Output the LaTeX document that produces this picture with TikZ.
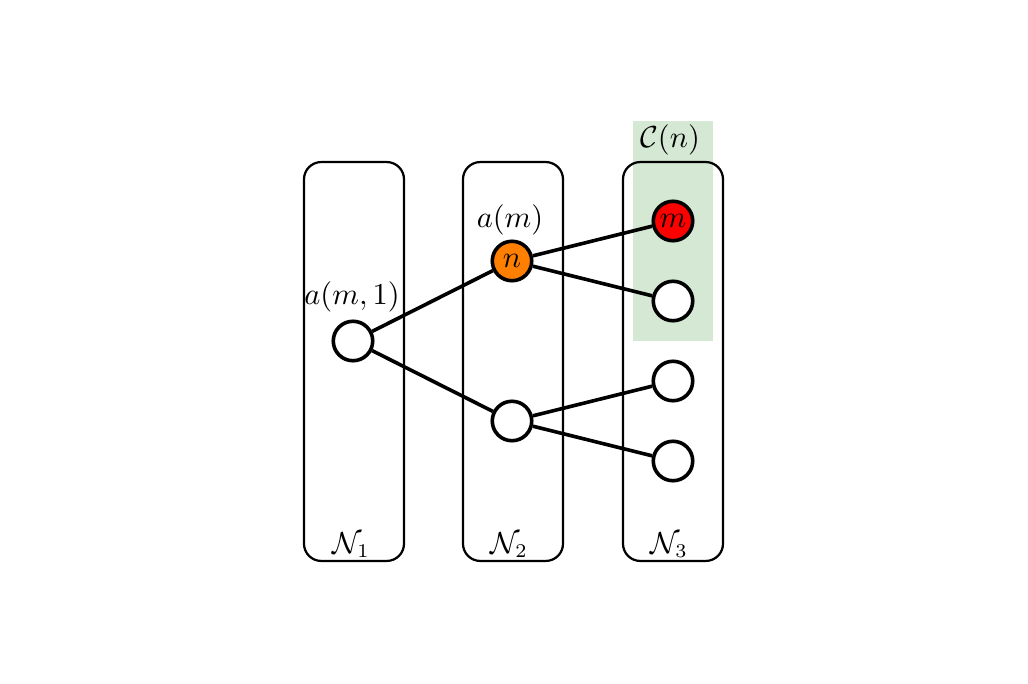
\documentclass[tikz,border=0pt]{standalone}
\usepackage{amsmath}
\begin{document}
\begin{tikzpicture}[x=0.36pt,y=-0.36pt,
  layerbox/.style={draw=black,line width=0.8pt,rounded corners=6.2pt,minimum width=36pt,minimum height=143.6pt,inner sep=0pt},
  vert/.style={circle,draw=black,line width=1.3pt,fill=white,minimum size=14.2pt,inner sep=0pt,scale=1.0,font=\fontsize{10.6}{12}\selectfont},
  edge/.style={line width=1.3pt},
  lbl/.style={inner sep=0pt,font=\fontsize{10.6}{12}\selectfont}]
\useasboundingbox (0,0) rectangle (1028,684);
\definecolor{grn}{HTML}{D5E8D4}
\definecolor{org}{HTML}{FF8000}
\definecolor{rd}{HTML}{FF0000}
\node[fill=grn,minimum width=28.8pt,minimum height=79.2pt,inner sep=0pt] (cn) at (673,231) {};
\node[layerbox] (L1) at (354,361.5) {};
\node[layerbox] (L2) at (513,361.5) {};
\node[layerbox] (L3) at (673,361.5) {};
\node[lbl] (cnl) at (670,140) {$\mathcal{C}(n)$};
\node[lbl] (n1l) at (351,545) {$\mathcal{N}_1$};
\node[lbl] (n2l) at (509,545) {$\mathcal{N}_2$};
\node[lbl] (n3l) at (669,545) {$\mathcal{N}_3$};
\node[vert] (a1) at (353,341) {};
\node[vert,fill=org] (n) at (512,261) {$n$};
\node[vert] (b) at (512,421) {};
\node[vert,fill=rd] (m) at (673,221) {$m$};
\node[vert] (c2) at (673,301) {};
\node[vert] (c3) at (673,381) {};
\node[vert] (c4) at (673,461) {};
\node[lbl] (aml) at (510,220) {$a(m)$};
\node[lbl] (am1l) at (352,297) {$a(m,1)$};
\draw[edge] (a1) -- (n);
\draw[edge] (a1) -- (b);
\draw[edge] (n) -- (m);
\draw[edge] (n) -- (c2);
\draw[edge] (b) -- (c3);
\draw[edge] (b) -- (c4);
\end{tikzpicture}
\end{document}
